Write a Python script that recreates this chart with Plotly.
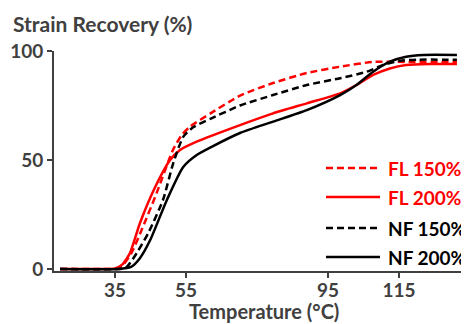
import plotly.graph_objects as go

# ---- data ----
fl150_t = [19.5, 30, 35, 37, 39.5, 42.5, 46.7, 51.3, 53.8, 56.1, 62, 70.2, 79.5, 89, 98.4, 107.7, 117, 131.3]
fl150_v = [0, 0, 0.2, 1.5, 7, 18, 34.8, 54.6, 61.5, 65.3, 71.5, 79.5, 85.3, 89.9, 92.8, 95, 95, 95]

fl200_t = [19.5, 30, 35, 37, 39.2, 42, 46.3, 50.5, 53.3, 58, 70.2, 79.5, 89, 98.4, 103, 107.7, 112.4, 117, 124, 131.3]
fl200_v = [0, 0, 0.3, 2, 7.3, 21, 37.6, 50, 54.6, 58.4, 66, 71.4, 76, 80.6, 84.4, 89, 92, 93.6, 94, 94]

nf150_t = [19.5, 35, 38, 41.1, 44.5, 48.5, 51.4, 54.2, 57, 62, 70.2, 79.5, 89, 98.4, 105.9, 110.5, 115.3, 120, 131.3]
nf150_v = [0, 0, 0.5, 7.3, 17, 31.7, 48.6, 60.6, 65, 69, 75, 79.8, 84.4, 87.5, 90.5, 93.6, 95.5, 96, 96]

nf200_t = [19.5, 36, 39.5, 42, 44.9, 49.6, 54.2, 58, 62.6, 70.2, 79.5, 89, 98.4, 103, 107.7, 112.4, 117, 122, 131.3]
nf200_v = [0, 0, 1, 5, 13.3, 31.7, 46.8, 52.3, 56.4, 62.4, 67.6, 72.9, 79.8, 84.4, 90.5, 95.1, 97.4, 98.2, 98.2]

series_names = ["FL 150%", "FL 200%", "NF 150%", "NF 200%"]
x_ticks = [35, 55, 95, 115]
y_ticks = [0, 50, 100]

RED = "#FF0000"
BLACK = "#000000"
GRAY = "#404040"
FONT = "Lato"
DASH = "7px,4px"

series = [
    (fl150_t, fl150_v, RED, DASH),
    (fl200_t, fl200_v, RED, "solid"),
    (nf150_t, nf150_v, BLACK, DASH),
    (nf200_t, nf200_v, BLACK, "solid"),
]

# page has an 8px body margin: figure occupies page pixels 8..469 / 8..324
OFF = 8
W, H = 469 - OFF, 324 - OFF
ML, MR, MT = 54 - OFF, 0, 51 - OFF
MB = H - (271 - OFF)
PW, PH = W - ML - MR, H - MT - MB

fig = go.Figure()
for name, (t, v, col, dash) in zip(series_names, series):
    fig.add_trace(go.Scatter(
        x=t, y=v, mode="lines", name=name, showlegend=False,
        line=dict(color=col, width=2.5, dash=dash, shape="spline", smoothing=0.6),
    ))


def px_x(px):
    # px given in reference-page pixels
    return (px - OFF - ML) / PW


def px_y(py):
    return (H - MB - (py - OFF)) / PH


# manual legend (long line samples like the reference)
leg_y = [168, 197, 228, 257]
shapes = []
annotations = []
for name, (t, v, col, dash), ly in zip(series_names, series, leg_y):
    shapes.append(dict(type="line", xref="paper", yref="paper",
                       x0=px_x(326), x1=px_x(380), y0=px_y(ly), y1=px_y(ly),
                       line=dict(color=col, width=2.5, dash=dash)))
    annotations.append(dict(text=name, xref="paper", yref="paper",
                            x=px_x(386), y=px_y(ly), xanchor="left", yanchor="middle",
                            showarrow=False, font=dict(family=FONT, size=19, color=col, weight="bold")))

annotations.append(dict(text="Strain Recovery (%)", xref="paper", yref="paper",
                        x=px_x(11), y=px_y(24), xanchor="left", yanchor="middle",
                        showarrow=False, font=dict(family=FONT, size=21, color=GRAY, weight="bold")))
annotations.append(dict(text="Temperature (°C)", xref="paper", yref="paper",
                        x=px_x(264), y=px_y(311), xanchor="center", yanchor="middle",
                        showarrow=False, font=dict(family=FONT, size=20, color=GRAY, weight="bold")))

fig.update_layout(
    width=W, height=H,
    margin=dict(l=ML, r=MR, t=MT, b=MB, pad=0),
    plot_bgcolor="white", paper_bgcolor="white",
    shapes=shapes, annotations=annotations,
    xaxis=dict(range=[17.8, 134.7], tickvals=x_ticks, showgrid=False, zeroline=False,
               showline=True, linecolor=GRAY, linewidth=2,
               ticks="outside", ticklen=5, tickwidth=2, tickcolor=GRAY,
               ticklabelstandoff=-4,
               tickfont=dict(family=FONT, size=19, color=GRAY, weight="bold")),
    yaxis=dict(range=[-0.9, 100], tickvals=y_ticks, showgrid=False, zeroline=False,
               showline=True, linecolor=GRAY, linewidth=2,
               ticks="outside", ticklen=5, tickwidth=2, tickcolor=GRAY,
               tickfont=dict(family=FONT, size=19, color=GRAY, weight="bold")),
)

fig.write_html("out.html")
